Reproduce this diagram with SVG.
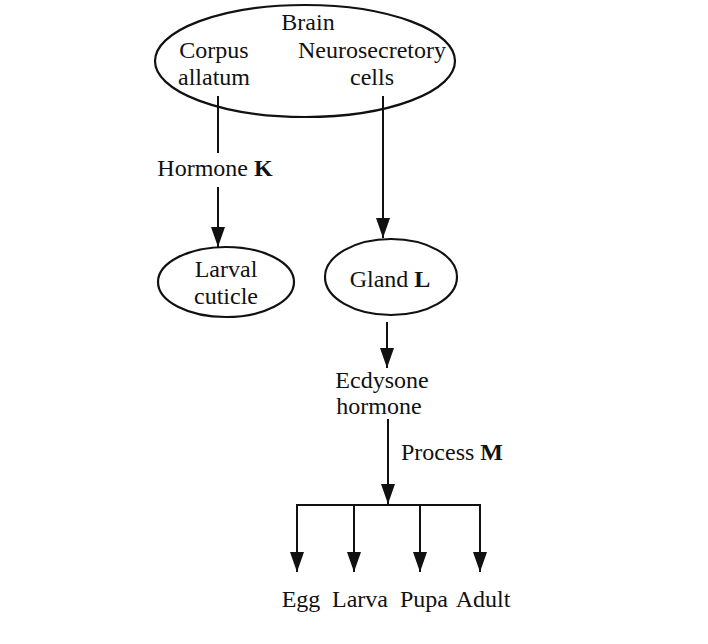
<svg xmlns="http://www.w3.org/2000/svg" width="708" height="644" viewBox="0 0 708 644">
<style>
text{font-family:"Liberation Serif","Times New Roman",serif;font-size:24px;fill:#111;}
.b{font-weight:bold;}
.shape{fill:none;stroke:#111;stroke-width:2.2;}
.ln{stroke:#111;stroke-width:2;fill:none;}
</style>
<defs>
<marker id="ah" viewBox="0 0 20 14" refX="20" refY="7" markerWidth="20" markerHeight="14" orient="auto" markerUnits="userSpaceOnUse">
<path d="M0,0 L20,7 L0,14 Z" fill="#111"/>
</marker>
</defs>
<rect width="708" height="644" fill="#fff"/>
<g id="brain">
<ellipse class="shape" cx="305" cy="61" rx="150" ry="56"/>
<text x="308" y="30" text-anchor="middle">Brain</text>
<text x="214" y="58" text-anchor="middle">Corpus</text>
<text x="214" y="85" text-anchor="middle">allatum</text>
<text x="372" y="58" text-anchor="middle" textLength="148">Neurosecretory</text>
<text x="372" y="85" text-anchor="middle">cells</text>
</g>
<g id="larval-cuticle">
<ellipse class="shape" cx="226" cy="282" rx="68" ry="35"/>
<text x="226" y="277" text-anchor="middle">Larval</text>
<text x="226" y="304" text-anchor="middle">cuticle</text>
</g>
<g id="gland-l">
<ellipse class="shape" cx="391" cy="277" rx="66" ry="38"/>
<text x="390" y="287" text-anchor="middle">Gland <tspan class="b">L</tspan></text>
</g>
<g id="ecdysone">
<text x="382" y="388" text-anchor="middle">Ecdysone</text>
<text x="379" y="414" text-anchor="middle">hormone</text>
</g>
<g id="stages">
<text x="301" y="607" text-anchor="middle">Egg</text>
<text x="360" y="607" text-anchor="middle">Larva</text>
<text x="424" y="607" text-anchor="middle">Pupa</text>
<text x="483" y="607" text-anchor="middle">Adult</text>
</g>
<g id="connectors">
<line class="ln" x1="218" y1="96" x2="218" y2="153"/>
<text x="215" y="176" text-anchor="middle">Hormone <tspan class="b">K</tspan></text>
<line class="ln" x1="218" y1="187" x2="218" y2="247" marker-end="url(#ah)"/>
<line class="ln" x1="383" y1="96" x2="383" y2="238" marker-end="url(#ah)"/>
<line class="ln" x1="387" y1="322" x2="387" y2="368" marker-end="url(#ah)"/>
<line class="ln" x1="388" y1="419" x2="388" y2="504" marker-end="url(#ah)"/>
<text x="401" y="460">Process <tspan class="b">M</tspan></text>
<line class="ln" x1="296" y1="505" x2="481" y2="505"/>
<line class="ln" x1="297" y1="504" x2="297" y2="572" marker-end="url(#ah)"/>
<line class="ln" x1="354" y1="505" x2="354" y2="572" marker-end="url(#ah)"/>
<line class="ln" x1="420" y1="505" x2="420" y2="572" marker-end="url(#ah)"/>
<line class="ln" x1="480" y1="504" x2="480" y2="572" marker-end="url(#ah)"/>
</g>
</svg>
